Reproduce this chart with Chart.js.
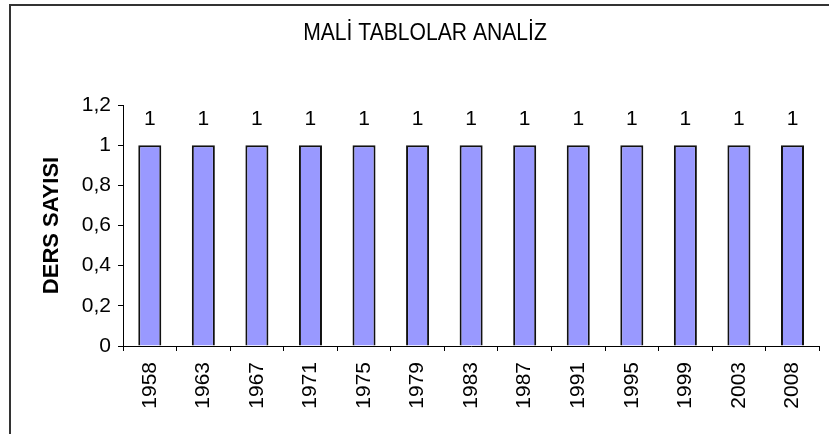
<!DOCTYPE html>
<html>
<head>
<meta charset="utf-8">
<script src="https://cdn.jsdelivr.net/npm/chart.js@4.4.1/dist/chart.umd.min.js"></script>
<style>
  html, body { margin: 0; padding: 0; background: #fff; }
  #wrap { position: relative; width: 829px; height: 434px; overflow: hidden; }
  #frame { position: absolute; left: 9px; top: 4px; width: 900px; height: 500px;
           border-left: 2px solid #333; border-top: 2px solid #333; pointer-events: none; }
</style>
</head>
<body>
<div id="wrap">
  <canvas id="chart"></canvas>
  <div id="frame"></div>
</div>
<script>
// data
const years = ['1958', '1963', '1967', '1971', '1975', '1979', '1983', '1987', '1991', '1995', '1999', '2003', '2008'];
const dersSayisi = [1, 1, 1, 1, 1, 1, 1, 1, 1, 1, 1, 1, 1];
const yTickLabels = ['0', '0,2', '0,4', '0,6', '0,8', '1', '1,2'];
const chartTitle = 'MALİ TABLOLAR ANALİZ';

const FONT = "Arial, 'Liberation Sans', sans-serif";

// title (centred on the frame, a bit condensed like the original) and the "1" labels above the bars
const extras = {
  id: 'extras',
  afterDatasetsDraw(chart) {
    const ctx = chart.ctx;
    ctx.save();
    ctx.fillStyle = '#000';
    ctx.textAlign = 'center';
    ctx.textBaseline = 'middle';
    ctx.save();
    ctx.translate(425, 33);
    ctx.scale(0.88, 1);
    ctx.font = '24px ' + FONT;
    ctx.fillText(chartTitle, 0, 0);
    ctx.restore();
    ctx.font = '21px ' + FONT;
    chart.getDatasetMeta(0).data.forEach((bar, i) => {
      ctx.fillText(String(dersSayisi[i]), bar.x, bar.y - 26);
    });
    ctx.restore();
  }
};

new Chart(document.getElementById('chart'), {
  type: 'bar',
  data: {
    labels: years,
    datasets: [{
      label: 'DERS SAYISI',
      data: dersSayisi,
      backgroundColor: '#9999FF',
      borderColor: '#111',
      borderWidth: 2,
      categoryPercentage: 1,
      barPercentage: 0.43
    }]
  },
  options: {
    responsive: true,
    maintainAspectRatio: false,
    animation: false,
    layout: { padding: { left: 0, right: 8, top: 105, bottom: 0 } },
    plugins: {
      legend: { display: false },
      tooltip: { enabled: false },
      title: { display: false }
    },
    scales: {
      x: {
        grid: { drawOnChartArea: false, offset: true, color: '#000', tickLength: 5 },
        border: { color: '#000', width: 1 },
        ticks: { color: '#000', font: { family: FONT, size: 21 }, minRotation: 90, maxRotation: 90, padding: 11 },
        afterFit(scale) { scale.height = 88; }
      },
      y: {
        min: 0,
        max: 1.2,
        grid: { drawOnChartArea: false, color: '#000', tickLength: 5 },
        border: { color: '#000', width: 1 },
        ticks: {
          stepSize: 0.2,
          color: '#000',
          font: { family: FONT, size: 21 },
          padding: 7,
          callback: (v, i) => yTickLabels[i]
        },
        title: {
          display: true,
          text: 'DERS SAYISI',
          color: '#000',
          font: { family: FONT, size: 22, weight: 'bold' },
          padding: { top: 39, bottom: 0 }
        },
        afterFit(scale) { scale.width = 123; }
      }
    }
  },
  plugins: [extras]
});
</script>
</body>
</html>
